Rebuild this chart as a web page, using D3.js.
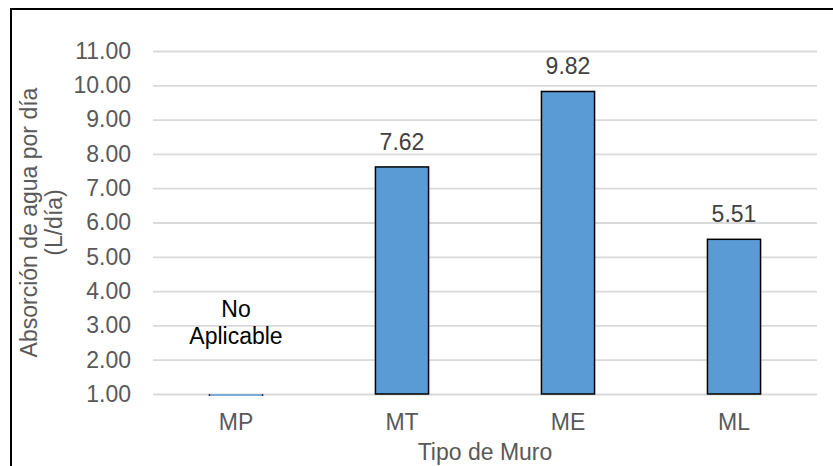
<!DOCTYPE html>
<html>
<head>
<meta charset="utf-8">
<script src="https://cdn.jsdelivr.net/npm/d3@7"></script>
<style>
  html, body { margin: 0; padding: 0; background: #fff; }
  svg { display: block; }
  text { font-family: Arial, "Liberation Sans", sans-serif; }
</style>
</head>
<body>
<svg id="chart" width="833" height="466"></svg>
<script>
// ---- data ----
const categories = ["MP", "MT", "ME", "ML"];
const values = [0.97, 7.62, 9.82, 5.51];
const valueLabels = [["No", "Aplicable"], ["7.62"], ["9.82"], ["5.51"]];
const yTicks = [1, 2, 3, 4, 5, 6, 7, 8, 9, 10, 11];
const yTitleLines = ["Absorción de agua por día", "(L/día)"];
const xTitle = "Tipo de Muro";

(function () {
// ---- layout ----
const svg = d3.select("#chart");
const pLeft = 153, pRight = 817, pTop = 51, pBottom = 394;
const fontSize = 23;

const x = d3.scaleBand().domain(categories).range([pLeft, pRight])
  .paddingInner(0.68).paddingOuter(0.34);
const y = d3.scaleLinear().domain([1, 11]).range([pBottom, pTop]);

// outer frame (cropped at right/bottom)
svg.append("rect").attr("x", 11).attr("y", 9).attr("width", 900).attr("height", 600)
  .attr("fill", "none").attr("stroke", "#000").attr("stroke-width", 2);

// gridlines + tick labels
const yAxis = d3.axisLeft(y).tickValues(yTicks).tickSize(-(pRight - pLeft))
  .tickFormat(d => d3.format(".2f")(d)).tickPadding(22);
const gy = svg.append("g").attr("transform", `translate(${pLeft},0)`).call(yAxis);
gy.select(".domain").remove();
gy.selectAll(".tick line").attr("stroke", "#D9D9D9").attr("stroke-width", 1.8);
gy.selectAll(".tick text").attr("fill", "#595959").style("font-size", fontSize + "px")
  .attr("font-family", "Arial, 'Liberation Sans', sans-serif");

// bars: fill, then outline
const base = y(1);
const bars = svg.append("g");
values.forEach((v, i) => {
  const x0 = x(categories[i]), w = x.bandwidth();
  if (v >= 1) {
    bars.append("rect").attr("x", x0).attr("width", w)
      .attr("y", y(v)).attr("height", base - y(v))
      .attr("fill", "#5B9BD5").attr("stroke", "#000").attr("stroke-width", 1.5);
  } else {
    // value below axis minimum: only a sliver is visible at the baseline
    const h = Math.max(y(v) - base, 1.5);
    bars.append("rect").attr("x", x0).attr("width", w)
      .attr("y", base + 0.3).attr("height", h)
      .attr("fill", "#5B9BD5");
    [x0, x0 + w].forEach(xx => bars.append("line")
      .attr("x1", xx).attr("x2", xx).attr("y1", base + 0.3).attr("y2", base + 0.3 + h)
      .attr("stroke", "#000").attr("stroke-width", 1.5));
  }
});

// value labels
valueLabels.forEach((lines, i) => {
  const cx = x(categories[i]) + x.bandwidth() / 2;
  if (lines.length === 1) {
    svg.append("text").attr("x", cx).attr("y", y(values[i]) - 17)
      .attr("text-anchor", "middle").attr("fill", "#404040")
      .style("font-size", fontSize + "px").text(lines[0]);
  } else {
    const b = y(2.5) + 1.5;
    lines.forEach((t, j) => {
      svg.append("text").attr("x", cx).attr("y", b - (lines.length - 1 - j) * 27)
        .attr("text-anchor", "middle").attr("fill", "#000")
        .style("font-size", fontSize + "px").text(t);
    });
  }
});

// category labels
svg.append("g").selectAll("text").data(categories).join("text")
  .attr("x", d => x(d) + x.bandwidth() / 2)
  .attr("y", 430)
  .attr("text-anchor", "middle").attr("fill", "#595959")
  .style("font-size", fontSize + "px").text(d => d);

// x title
svg.append("text").attr("x", (pLeft + pRight) / 2).attr("y", 460)
  .attr("text-anchor", "middle").attr("fill", "#595959")
  .style("font-size", fontSize + "px").text(xTitle);

// y title
const cy = (pTop + pBottom) / 2;
yTitleLines.forEach((t, j) => {
  svg.append("text")
    .attr("transform", `translate(${37 + j * 25},${cy}) rotate(-90)`)
    .attr("text-anchor", "middle").attr("fill", "#595959")
    .style("font-size", fontSize + "px").text(t);
});
})();
</script>
</body>
</html>
